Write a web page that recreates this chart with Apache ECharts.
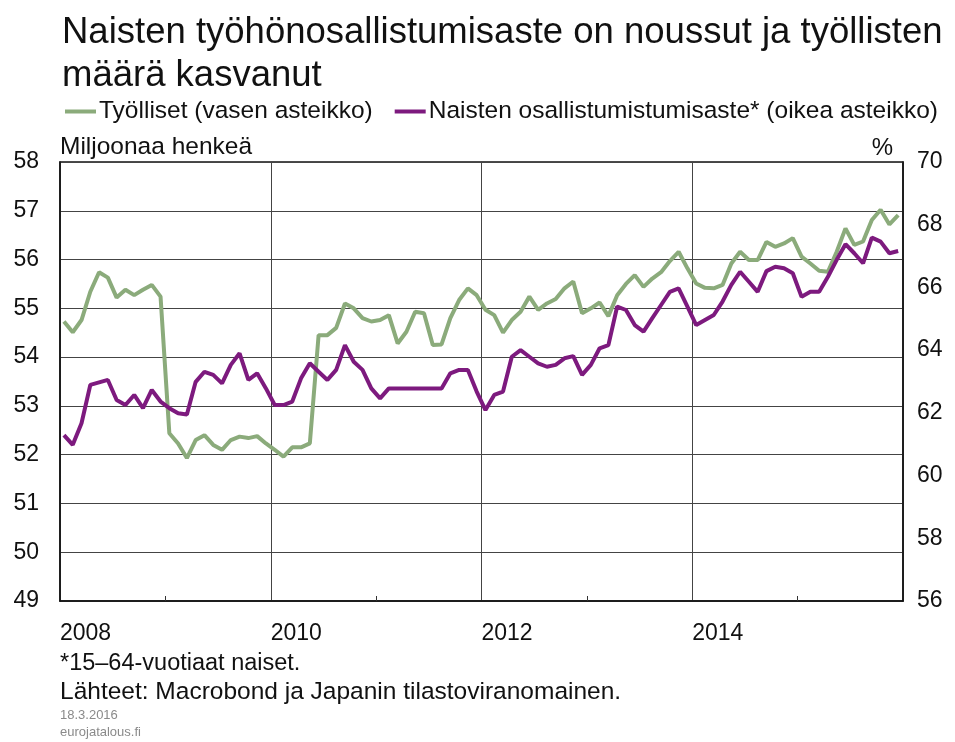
<!DOCTYPE html>
<html>
<head>
<meta charset="utf-8">
<title>Naisten työhönosallistumisaste</title>
<script src="https://cdn.jsdelivr.net/npm/echarts@6/dist/echarts.min.js"></script>
<style>
  html, body { margin: 0; padding: 0; background: #fff; }
  #chart { width: 955px; height: 742px; }
</style>
</head>
<body>
<div id="chart"></div>
<script>
// Kuukausittaiset havainnot 2008/01 - 2015/12
const startYear = 2008;
const yearLabels = ["2008", "2010", "2012", "2014"];

// Työlliset, miljoonaa henkeä (vasen asteikko)
const employed = [
  54.73, 54.51, 54.76, 55.34, 55.74, 55.63, 55.22, 55.38, 55.27, 55.38, 55.48, 55.24,
  52.44, 52.23, 51.93, 52.30, 52.40, 52.20, 52.10, 52.30, 52.37, 52.34, 52.38, 52.23,
  52.10, 51.96, 52.15, 52.15, 52.23, 54.45, 54.45, 54.60, 55.10, 55.00, 54.80, 54.73,
  54.76, 54.86, 54.28, 54.52, 54.93, 54.90, 54.25, 54.26, 54.80, 55.17, 55.41, 55.27,
  54.97, 54.86, 54.50, 54.76, 54.93, 55.24, 54.97, 55.10, 55.19, 55.41, 55.55, 54.90,
  55.00, 55.12, 54.84, 55.27, 55.50, 55.68, 55.44, 55.61, 55.74, 55.97, 56.16, 55.82,
  55.51, 55.42, 55.41, 55.48, 55.92, 56.16, 55.99, 55.99, 56.36, 56.26, 56.33, 56.44,
  56.06, 55.92, 55.77, 55.75, 56.16, 56.64, 56.30, 56.37, 56.81, 57.02, 56.72, 56.91
];

// Naisten osallistumisaste, % (oikea asteikko)
const participation = [
  61.29, 60.98, 61.67, 62.89, 62.97, 63.05, 62.41, 62.25, 62.57, 62.15, 62.73, 62.36,
  62.15, 61.99, 61.95, 62.99, 63.31, 63.21, 62.94, 63.53, 63.90, 63.05, 63.26, 62.78,
  62.25, 62.25, 62.36, 63.10, 63.58, 63.31, 63.05, 63.37, 64.16, 63.63, 63.37, 62.78,
  62.46, 62.78, 62.78, 62.78, 62.78, 62.78, 62.78, 62.78, 63.26, 63.37, 63.37, 62.68,
  62.09, 62.57, 62.68, 63.79, 64.00, 63.79, 63.58, 63.47, 63.53, 63.74, 63.81, 63.21,
  63.53, 64.06, 64.16, 65.39, 65.28, 64.80, 64.59, 65.02, 65.44, 65.86, 65.97, 65.39,
  64.80, 64.96, 65.12, 65.55, 66.08, 66.50, 66.18, 65.86, 66.52, 66.66, 66.61, 66.45,
  65.70, 65.86, 65.86, 66.34, 66.88, 67.38, 67.09, 66.77, 67.59, 67.46, 67.09, 67.16
];

const leftTicks = [49, 58];
const rightTicks = [56, 70];

const FONT = '"Liberation Sans", Arial, sans-serif';
const GREEN = "#8bab7b";
const PURPLE = "#7d1a7e";

// kuukausi -> x-akselin arvo (kuukausia vuoden 2008 alusta, keskikohta)
const toPoints = (arr) => arr.map((v, i) => [i + 0.45, v]);

const chart = echarts.init(document.getElementById("chart"));

const option = {
  backgroundColor: "#fff",
  animation: false,
  textStyle: { fontFamily: FONT, color: "#111" },
  title: {
    text: "Naisten työhönosallistumisaste on noussut ja työllisten\nmäärä kasvanut",
    left: 57,
    top: 6,
    textStyle: {
      fontFamily: FONT,
      fontSize: 36.5,
      fontWeight: "normal",
      lineHeight: 43,
      color: "#111",
    },
  },
  legend: {
    left: 60,
    top: 94,
    icon: "rect",
    itemWidth: 31,
    itemHeight: 4,
    itemGap: 22,
    textStyle: { fontFamily: FONT, fontSize: 24.5, color: "#111", padding: [0, 0, 0, -2] },
    data: ["Työlliset (vasen asteikko)", "Naisten osallistumistumisaste* (oikea asteikko)"],
  },
  grid: {
    left: 60,
    right: 52,
    top: 162,
    bottom: 141,
    show: true,
    borderColor: "#111",
    borderWidth: 1.5,
  },
  xAxis: {
    type: "value",
    min: 0,
    max: 96,
    interval: 24,
    axisLine: { show: true, lineStyle: { color: "#111", width: 1.5 } },
    axisTick: { show: false, inside: true },
    minorTick: { show: true, splitNumber: 2, length: 5, lineStyle: { color: "#333" } },
    axisLabel: {
      fontFamily: FONT,
      fontSize: 23,
      color: "#111",
      align: "left",
      margin: 21,
      formatter: (v) => {
        const y = String(startYear + v / 12);
        return yearLabels.includes(y) ? y : "";
      },
    },
    splitLine: { show: true, lineStyle: { color: "#444", width: 1 } },
  },
  yAxis: [
    {
      type: "value",
      min: leftTicks[0],
      max: leftTicks[1],
      interval: 1,
      name: "Miljoonaa henkeä",
      nameLocation: "end",
      nameGap: 2,
      nameTextStyle: { fontFamily: FONT, fontSize: 24.5, color: "#111", align: "left" },
      axisLine: { show: true, lineStyle: { color: "#111", width: 1.5 } },
      axisTick: { show: false },
      axisLabel: { fontFamily: FONT, fontSize: 23, color: "#111", margin: 21 },
      splitLine: { show: true, lineStyle: { color: "#444", width: 1 } },
    },
    {
      type: "value",
      min: rightTicks[0],
      max: rightTicks[1],
      interval: 2,
      name: "%",
      nameLocation: "end",
      nameGap: 2,
      nameTextStyle: { fontFamily: FONT, fontSize: 24, color: "#111", align: "right", padding: [0, 10, 0, 0] },
      axisLine: { show: true, lineStyle: { color: "#111", width: 1.5 } },
      axisTick: { show: false },
      axisLabel: { fontFamily: FONT, fontSize: 23, color: "#111", margin: 14 },
      splitLine: { show: false },
    },
  ],
  series: [
    {
      name: "Työlliset (vasen asteikko)",
      type: "line",
      yAxisIndex: 0,
      data: toPoints(employed),
      showSymbol: false,
      lineStyle: { color: GREEN, width: 4 },
      itemStyle: { color: GREEN },
    },
    {
      name: "Naisten osallistumistumisaste* (oikea asteikko)",
      type: "line",
      yAxisIndex: 1,
      data: toPoints(participation),
      showSymbol: false,
      lineStyle: { color: PURPLE, width: 4 },
      itemStyle: { color: PURPLE },
    },
  ],
  graphic: [
    {
      type: "text",
      left: 60,
      top: 652,
      style: { text: "*15–64-vuotiaat naiset.", font: "23.5px " + FONT, fill: "#111" },
    },
    {
      type: "text",
      left: 60,
      top: 680,
      style: { text: "Lähteet: Macrobond ja Japanin tilastoviranomainen.", font: "24.5px " + FONT, fill: "#111" },
    },
    {
      type: "text",
      left: 60,
      top: 709,
      style: { text: "18.3.2016", font: "13px " + FONT, fill: "#8a8a8a" },
    },
    {
      type: "text",
      left: 60,
      top: 726,
      style: { text: "eurojatalous.fi", font: "13px " + FONT, fill: "#8a8a8a" },
    },
  ],
};

chart.setOption(option);
</script>
</body>
</html>
